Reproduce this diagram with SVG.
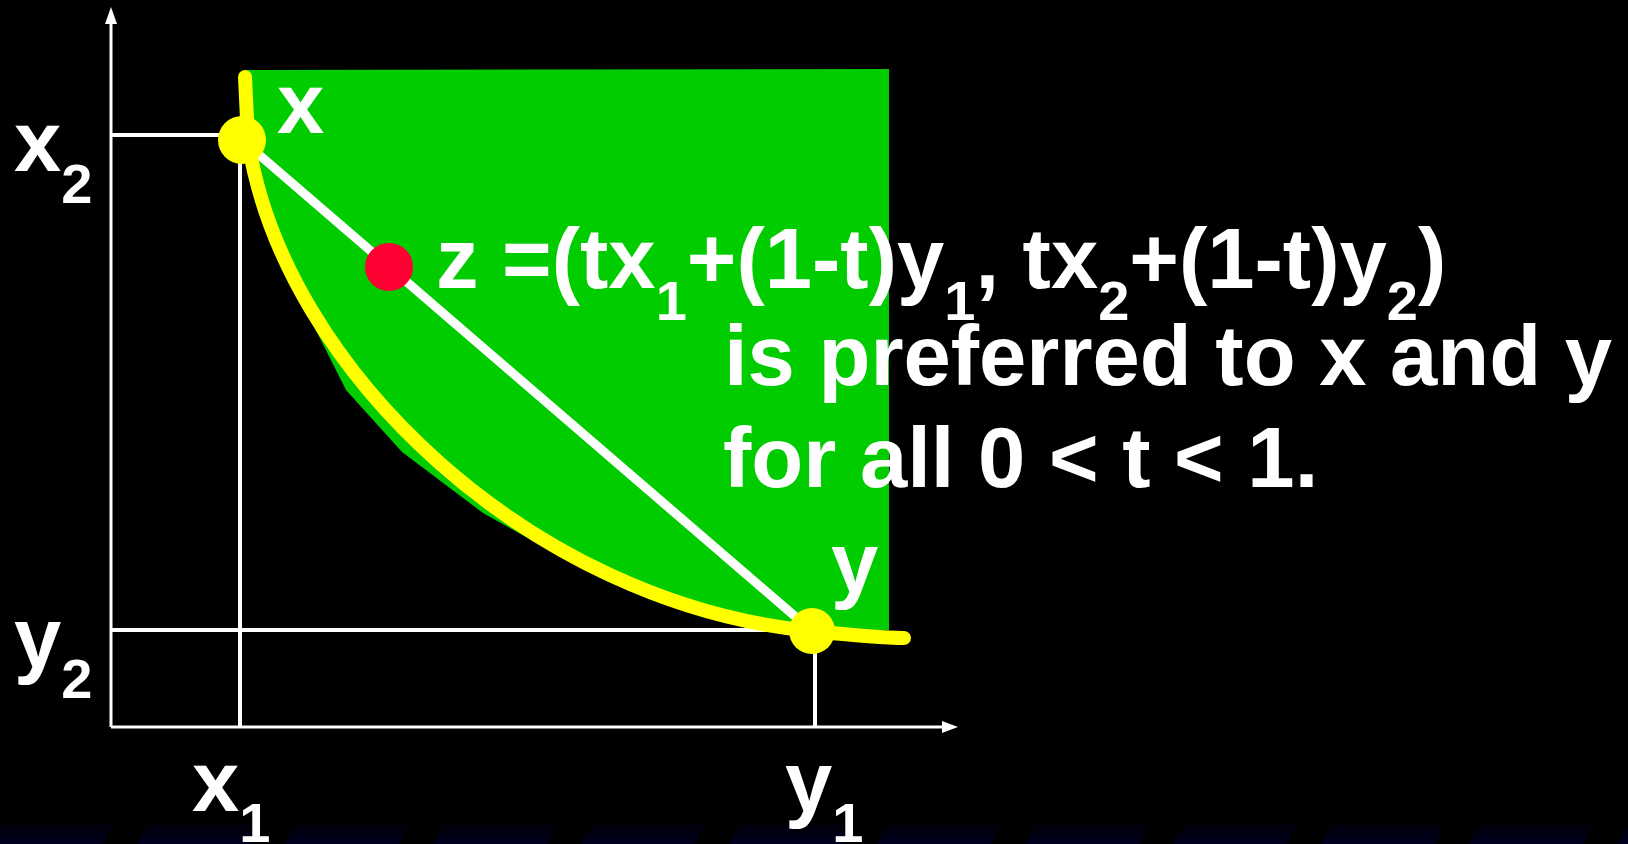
<svg xmlns="http://www.w3.org/2000/svg" width="1628" height="844" viewBox="0 0 1628 844">
<style>
  .t { font-family: "Liberation Sans", Arial, sans-serif; font-weight: bold; fill: #FFFFFF; font-size: 85px; }
  .sub { font-size: 56px; }
  .guide { stroke: #FFFFFF; stroke-width: 4; fill: none; }
  .axis { stroke: #FFFFFF; stroke-width: 3; fill: none; }
  .head { fill: #FFFFFF; }
</style>
<defs>
  <linearGradient id="band" x1="0" y1="0" x2="0" y2="1">
    <stop offset="0" stop-color="#000006"/>
    <stop offset="1" stop-color="#00001f"/>
  </linearGradient>
  <pattern id="stripes" patternUnits="userSpaceOnUse" x="0" y="822" width="148" height="22">
    <polygon points="0,0 113,0 103,22 0,22" fill="url(#band)"/>
    <polygon points="150,0 261,0 251,22 137,22" fill="url(#band)"/>
  </pattern>
</defs>
<rect x="0" y="0" width="1628" height="844" fill="#000000"/>
<rect x="0" y="822" width="1628" height="22" fill="url(#stripes)"/>

<g id="preferred-set">
  <polygon fill="#00CC00" points="247,70 889,69 889,630 812,630 700,606 600,578 483,513 402,452 346,390 280,259 262,200 250,140 245,77"/>
</g>

<g id="connectors">
  <line class="axis" x1="111" y1="727" x2="111" y2="22"/>
  <polygon class="head" points="105,24 111,7 117,24"/>
  <line class="axis" x1="111" y1="727" x2="944" y2="727"/>
  <polygon class="head" points="942,721 958,727 942,733"/>
  <line class="guide" x1="111" y1="135" x2="242" y2="135"/>
  <line class="guide" x1="240" y1="140" x2="240" y2="727"/>
  <line class="guide" x1="111" y1="630" x2="812" y2="630"/>
  <line class="guide" x1="815" y1="631" x2="815" y2="727"/>
  <line x1="242" y1="140" x2="812" y2="631" stroke="#FFFFFF" stroke-width="9"/>
  <path d="M245,77 C246,100 247,120 248,140 C283,372 535,605 812,631 C850,635 880,638 904,638" fill="none" stroke="#FFFF00" stroke-width="14" stroke-linecap="round"/>
</g>

<g id="point-x">
  <circle cx="242" cy="140" r="24" fill="#FFFF00"/>
  <text class="t" x="277" y="133">x</text>
</g>
<g id="point-y">
  <circle cx="812" cy="631" r="23" fill="#FFFF00"/>
  <text class="t" x="831" y="592">y</text>
</g>
<g id="point-z">
  <circle cx="389" cy="267" r="24" fill="#FF0033"/>
  <text class="t" x="436" y="288">z =(tx<tspan class="sub" dy="32">1</tspan><tspan dy="-32">+(1-t)y</tspan><tspan class="sub" dy="32">1</tspan><tspan dy="-32">, tx</tspan><tspan class="sub" dy="32">2</tspan><tspan dy="-32">+(1-t)y</tspan><tspan class="sub" dy="32">2</tspan><tspan dy="-32">)</tspan></text>
  <text class="t" x="724" y="385">is preferred to x and y</text>
  <text class="t" x="723" y="487">for all 0 &lt; t &lt; 1.</text>
</g>

<g id="axis-labels">
  <text class="t" x="14" y="171">x<tspan class="sub" dy="32">2</tspan></text>
  <text class="t" x="14" y="667">y<tspan class="sub" dy="31">2</tspan></text>
  <text class="t" x="192" y="811">x<tspan class="sub" dy="31">1</tspan></text>
  <text class="t" x="785" y="811">y<tspan class="sub" dy="31">1</tspan></text>
</g>
</svg>
